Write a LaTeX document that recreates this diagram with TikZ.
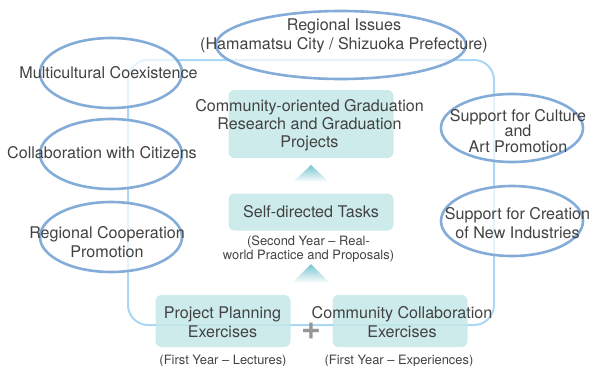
\documentclass[tikz,border=0pt]{standalone}
\usepackage{fontspec}
\setmainfont{TeX Gyre Heros}
\usetikzlibrary{shapes.geometric}
\definecolor{mframe}{RGB}{168,216,244}
\definecolor{mring}{RGB}{132,172,216}
\definecolor{mbox}{RGB}{196,232,232}
\definecolor{mtri}{RGB}{118,196,208}
\definecolor{mtext}{RGB}{66,66,66}
\definecolor{mplus}{RGB}{150,150,150}

\begin{document}
\begin{tikzpicture}[x=1pt, y=-1pt,
    bubble/.style={draw=mring, line width=2.6pt, ellipse, fill=white, fill opacity=0.7, minimum width=142pt, minimum height=70pt},
    task/.style={fill=mbox, fill opacity=0.85, rounded corners=6pt, minimum width=135pt, minimum height=52pt},
    txt/.style={text=mtext, align=center, font=\fontsize{16.1}{19}\selectfont},
    note/.style={text=mtext, align=center, font=\fontsize{12.9}{14.5}\selectfont},
    frame/.style={draw=mframe, line width=2pt, rounded corners=20pt},
    rise/.style={top color=mtri, bottom color=white},
]
\useasboundingbox (0,0) rectangle (592,365);

% frame round the course
\draw[frame] (128,60) rectangle (494,325);

% course steps
\node[task, minimum width=165pt, minimum height=68pt] (graduation) at (311,124) {};
\node[task, minimum width=165pt, minimum height=37pt] (self) at (311,212) {};
\node[task] (plan) at (223,321) {};
\node[task] (collab) at (400,321) {};

\shade[rise] (311,165) -- (329,182) -- (293,182) -- cycle;
\shade[rise] (311,264) -- (330,283) -- (292,283) -- cycle;

% regional themes
\node[bubble, minimum width=250pt, minimum height=68pt] (issues) at (341,45) {};
\node[bubble] (multi) at (111,73) {};
\node[bubble] (citizens) at (111,154) {};
\node[bubble] (coop) at (111,237) {};
\node[bubble, minimum height=68pt] (culture) at (512,128) {};
\node[bubble] (industries) at (512,221) {};

% texts
\node[txt] (issues-t) at (344,36) {Regional Issues\\(Hamamatsu City / Shizuoka Prefecture)};
\node[txt] (multi-t) at (108.5,73) {Multicultural Coexistence};
\node[txt] (citizens-t) at (102,153) {Collaboration with Citizens};
\node[txt] (coop-t) at (107,242) {Regional Cooperation\\Promotion};
\node[txt, font=\fontsize{16.1}{15.5}\selectfont] (culture-t) at (518,131) {Support for Culture\\and\\Art Promotion};
\node[txt] (industries-t) at (517.5,223.5) {Support for Creation\\of New Industries};

\node[txt, font=\fontsize{16.1}{18}\selectfont] (graduation-t) at (309.5,125) {Community-oriented Graduation\\Research and Graduation\\Projects};
\node[txt] (self-t) at (311,212) {Self-directed Tasks};
\node[note] (self-n) at (308.5,249) {(Second Year -- Real-\\world Practice and Proposals)};
\node[txt] (plan-t) at (222.5,322.5) {Project Planning\\Exercises};
\node[txt] (collab-t) at (402,322.5) {Community Collaboration\\Exercises};
\node[note] (plan-n) at (223,361) {(First Year -- Lectures)};
\node[note] (collab-n) at (399,361) {(First Year -- Experiences)};

\node[text=mplus, font=\fontsize{34}{34}\bfseries] (plus) at (311,331) {+};
\end{tikzpicture}
\end{document}
